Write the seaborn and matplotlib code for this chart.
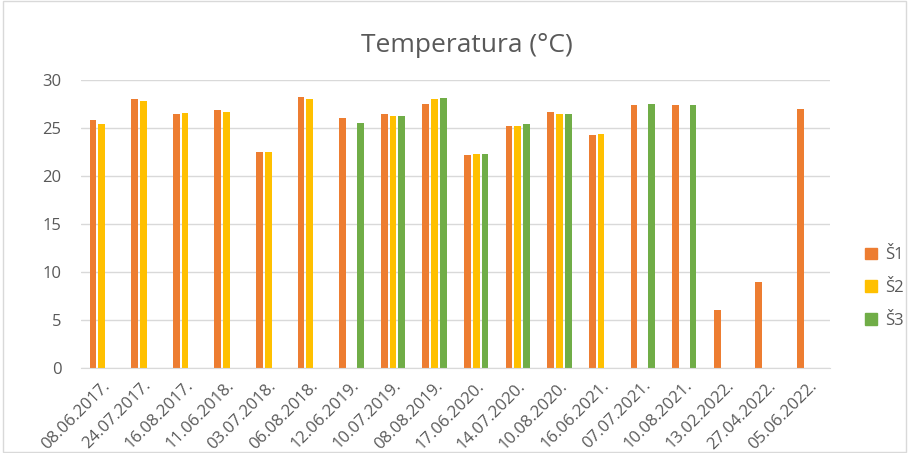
import numpy as np
import pandas as pd
import matplotlib

matplotlib.use("Agg")
import matplotlib.pyplot as plt
import seaborn as sns
from matplotlib.patches import Rectangle

# dates of measurement
dates = [
    "08.06.2017.", "24.07.2017.", "16.08.2017.", "11.06.2018.", "03.07.2018.",
    "06.08.2018.", "12.06.2019.", "10.07.2019.", "08.08.2019.", "17.06.2020.",
    "14.07.2020.", "10.08.2020.", "16.06.2021.", "07.07.2021.", "10.08.2021.",
    "13.02.2022.", "27.04.2022.", "05.06.2022.",
]
nan = np.nan
s1 = [25.8, 28.0, 26.5, 26.9, 22.5, 28.2, 26.0, 26.5, 27.5, 22.2, 25.2, 26.7, 24.3, 27.4, 27.4, 6.0, 9.0, 27.0]
s2 = [25.4, 27.8, 26.6, 26.7, 22.5, 28.0, nan, 26.3, 28.0, 22.3, 25.2, 26.5, 24.4, nan, nan, nan, nan, nan]
s3 = [nan, nan, nan, nan, nan, nan, 25.5, 26.2, 28.1, 22.3, 25.4, 26.5, nan, 27.5, 27.4, nan, nan, nan]
series = ["Š1", "Š2", "Š3"]
colors = ["#ED7D31", "#FFC000", "#70AD47"]

df = pd.DataFrame({"datum": dates, "Š1": s1, "Š2": s2, "Š3": s3})
long_df = df.melt(id_vars="datum", var_name="serija", value_name="temp")

sns.set_style("white")
plt.rcParams["font.family"] = ["Open Sans", "DejaVu Sans"]
text_color = "#595959"

fig = plt.figure(figsize=(9.09, 4.53), dpi=100)
ax = fig.add_axes([0.089, 0.1876, 0.824, 0.6358])

sns.barplot(
    data=long_df, x="datum", y="temp", hue="serija", hue_order=series,
    palette=colors, width=0.63, gap=0.22, ax=ax, legend=False,
    edgecolor="none", saturation=1,
)

ax.set_ylim(0, 30)
ax.set_yticks(range(0, 31, 5))
ax.set_xlim(-0.5, len(dates) - 0.5)
ax.yaxis.grid(True, color="#d9d9d9", linewidth=1)
ax.set_axisbelow(True)
for side in ["top", "right", "left"]:
    ax.spines[side].set_visible(False)
ax.spines["bottom"].set_color("#d9d9d9")
ax.set_xlabel("")
ax.set_ylabel("")
ax.tick_params(axis="both", length=0, colors=text_color, labelsize=12)
ax.tick_params(axis="y", pad=14)
plt.setp(ax.get_xticklabels(), rotation=45, ha="right", rotation_mode="anchor")
ax.tick_params(axis="x", pad=7)

fig.text(0.514, 0.9, "Temperatura (°C)", ha="center", va="center",
         fontsize=19, color=text_color)

# legend on the right
handles = [Rectangle((0, 0), 1, 1, color=c) for c in colors]
fig.legend(handles, series, loc="center left", bbox_to_anchor=(0.935, 0.364),
           frameon=False, fontsize=12, labelcolor=text_color,
           handlelength=0.7, handleheight=0.7, handletextpad=0.5, labelspacing=1.0)

# light frame of the chart area
fig.patches.append(Rectangle((0.003, 0.003), 0.994, 0.994, transform=fig.transFigure,
                             fill=False, edgecolor="#d9d9d9", linewidth=1))

fig.savefig("out.png", dpi=100)
